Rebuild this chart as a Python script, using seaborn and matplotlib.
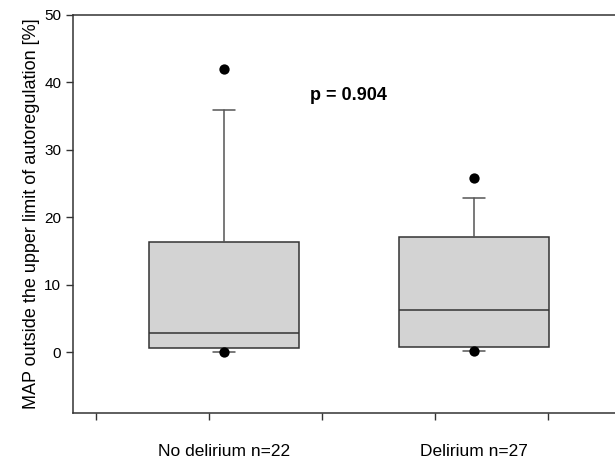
import numpy as np
import pandas as pd
import matplotlib
matplotlib.use("Agg")
import matplotlib.pyplot as plt
import seaborn as sns

sns.set_theme(style="ticks")
plt.rcParams['font.family'] = ['Liberation Sans', 'DejaVu Sans']
plt.rcParams['text.color'] = 'black'
plt.rcParams['axes.labelcolor'] = 'black'
plt.rcParams['xtick.labelcolor'] = 'black'
plt.rcParams['ytick.labelcolor'] = 'black'

# SigmaPlot-style box stats: whiskers 10th/90th, dots 5th/95th percentiles
groups = ["No delirium n=22", "Delirium n=27"]
q1 = [0.6, 0.8]
median = [2.8, 6.2]
q3 = [16.3, 17.0]
whisker_low = [0.0, 0.15]
whisker_high = [35.9, 22.9]
pct5 = [0.05, 0.1]
pct95 = [42.0, 25.8]
p_text = "p = 0.904"
p_pos = (0.5, 38.1)

edge = "#333333"
fig = plt.figure(figsize=(6.15, 4.61), dpi=100)
ax = fig.add_axes([0.1187, 0.1041, 0.8813, 0.8634])

stats = []
for i, g in enumerate(groups):
    stats.append({"label": g, "med": median[i], "q1": q1[i], "q3": q3[i],
                  "whislo": whisker_low[i], "whishi": whisker_high[i], "fliers": []})

ax.bxp(stats, positions=range(len(groups)), widths=0.6, capwidths=0.09,
       patch_artist=True, showfliers=False,
       boxprops=dict(facecolor="#d3d3d3", edgecolor=edge, linewidth=1.1),
       medianprops=dict(color=edge, linewidth=1.1),
       whiskerprops=dict(color="#555555", linewidth=1.1),
       capprops=dict(color="#555555", linewidth=1.1))

dots = pd.DataFrame({"x": list(range(len(groups))) * 2, "y": pct5 + pct95})
sns.scatterplot(data=dots, x="x", y="y", ax=ax, color="black", s=55,
                edgecolor="black", linewidth=0, zorder=5, legend=False)

ax.text(p_pos[0], p_pos[1], p_text, ha="center", va="center",
        fontsize=13, fontweight="bold", color="black")

ax.set_xlim(-0.604, 1.565)
ax.set_ylim(-9.05, 50)
ax.set_yticks([0, 10, 20, 30, 40, 50])
ax.set_xticks(range(len(groups)))
ax.set_xticklabels(groups, fontsize=12.5)
ax.set_xticks([-0.51, -0.059, 0.394, 0.844, 1.297], minor=True)
ax.tick_params(axis="x", which="major", length=0, pad=22)
ax.tick_params(axis="x", which="minor", length=5, width=1, color=edge, direction="out")
ax.tick_params(axis="y", length=5, width=1, color=edge, labelsize=11, direction="out")
ax.set_xlabel("")
ax.set_ylabel("MAP outside the upper limit of autoregulation [%]", fontsize=13, labelpad=3)

for s in ["left", "bottom", "top"]:
    ax.spines[s].set_color(edge)
    ax.spines[s].set_linewidth(1.1)
ax.spines["right"].set_visible(False)

fig.savefig("out.png", dpi=100)
